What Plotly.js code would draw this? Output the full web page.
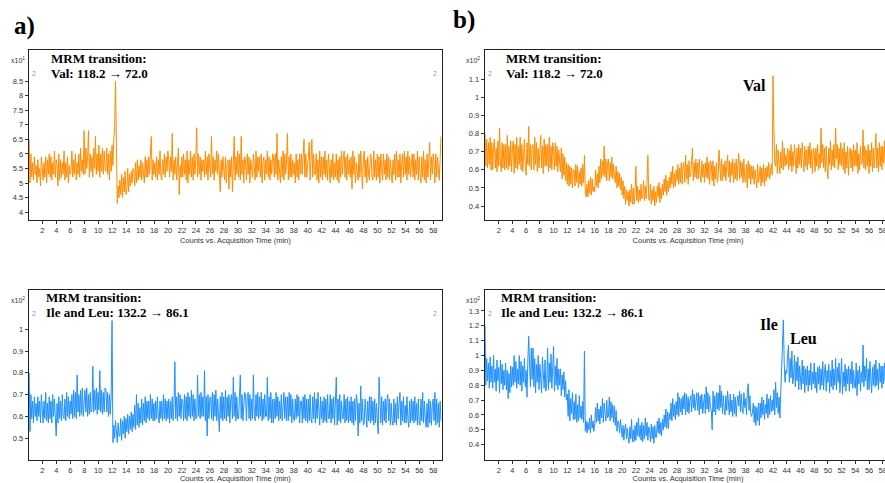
<!DOCTYPE html>
<html><head><meta charset="utf-8">
<script src="https://cdn.plot.ly/plotly-3.0.1.min.js"></script>
<style>html,body{margin:0;padding:0;overflow:hidden;background:#fff}#chart{width:900px;height:483px}</style>
</head><body><div id="chart"></div>
<script>
// Acquisition time tick labels (min)
const tickMinutes = [2,4,6,8,10,12,14,16,18,20,22,24,26,28,30,32,34,36,38,40,42,44,46,48,50,52,54,56,58];
const yTicksValA = [4,4.5,5,5.5,6,6.5,7,7.5,8,8.5];
const yTicksIleA = [0.5,0.6,0.7,0.8,0.9,1];
const yTicksValB = [0.4,0.5,0.6,0.7,0.8,0.9,1,1.1];
const yTicksIleB = [0.4,0.5,0.6,0.7,0.8,0.9,1,1.1,1.2,1.3];

// Raw counts read from the picture, sampled every 0.125 min (8 per minute)
// a) Val 118.2 -> 72.0 (axis x10^1), starts at 0.1 min
const countsValA = [
65,50,60,52,57,51,59,53, 56,50,58,52,55,49,59,53, 51,57,52,59,50,58,53,60, 52,59,51,57,53,61,52,58,
56,49,60,51,58,52,57,53, 61,51,57,52,59,50,56,53, 54,61,52,58,53,60,51,57, 53,60,52,62,54,58,53,68,
53,62,55,59,68,52,60,54, 59,52,62,55,66,53,60,54, 63,52,60,54,62,53,61,55, 54,62,53,60,51,61,54,63,
56,65,69,85,60,43,49,45, 51,46,53,45,52,47,54,46, 48,55,47,53,49,54,50,55, 54,49,57,50,58,51,56,52,
58,51,57,53,50,59,52,58, 52,59,53,60,66,51,58,53, 57,52,59,51,58,53,61,52, 51,58,53,60,52,59,54,61,
58,52,59,54,67,51,58,53, 59,51,57,62,46,56,52,59, 52,60,53,58,51,61,50,58, 53,61,52,59,51,60,53,58,
69,52,60,53,59,51,58,54, 58,52,61,53,59,51,60,54, 52,66,53,59,51,58,54,61, 53,60,52,47,58,52,59,53,
51,59,50,57,58,48,58,52, 59,47,60,66,51,59,53,61, 52,60,51,66,53,58,50,59, 58,51,60,53,59,50,58,54,
52,60,53,51,61,52,59,54, 59,52,60,50,57,59,51,58, 53,61,52,59,51,58,53,60, 59,52,60,53,67,51,58,54,
50,59,52,61,51,60,53,58, 67,51,59,52,60,52,58,53, 57,50,60,52,58,51,60,53, 60,53,59,65,52,60,52,58,
59,64,51,58,65,52,60,53, 53,60,51,58,50,61,52,59, 51,59,53,61,52,58,51,60, 53,50,58,52,60,51,57,52,
60,51,58,50,59,52,61,53, 58,61,52,59,51,60,53,58, 52,59,48,61,53,59,50,57, 54,51,60,52,61,51,48,58,
61,52,58,50,59,53,51,60, 59,52,51,61,52,58,51,60, 52,59,50,60,53,51,60,53, 58,51,60,52,59,51,58,53,
50,58,53,60,51,61,52,58, 52,60,50,57,60,52,61,53, 59,51,61,53,59,52,57,60, 52,60,51,58,53,61,51,59,
53,50,59,52,61,51,58,50, 60,52,58,64,51,59,53,60, 57,50,60,52,59,53,51,58, 66];
// a) Ile and Leu 132.2 -> 86.1 (axis x10^2), starts at 0.1 min
const countsIleA = [
80,53,70,59,67,57,69,60, 66,58,69,60,67,57,70,60, 57,67,59,71,58,66,57,69, 59,67,57,70,60,68,58,51,
66,57,69,59,67,58,70,60, 59,68,58,71,60,69,59,67, 61,70,59,72,60,71,59,79, 62,70,60,72,61,73,60,70,
72,62,73,60,70,61,71,62, 63,83,62,72,63,73,61,71, 63,81,62,72,61,71,62,73, 72,62,71,60,70,61,69,104,
48,56,50,58,51,48,57,51, 51,59,49,58,52,60,50,59, 53,61,52,60,54,62,53,61, 55,65,54,70,56,66,55,64,
57,68,56,66,58,69,57,67, 59,67,58,70,59,68,58,66, 58,67,59,69,60,57,67,59, 67,58,70,59,68,58,67,59,
68,57,67,59,69,58,66,85, 59,69,58,71,60,70,59,68, 67,58,70,59,69,58,71,60, 69,59,72,60,70,58,68,59,
59,79,60,70,59,71,60,69, 60,81,58,69,51,70,59,68, 69,59,71,58,70,60,72,58, 68,59,53,69,59,71,58,69,
59,72,58,69,60,70,57,68, 70,59,78,60,71,58,69,59, 59,69,79,59,70,58,68,71, 70,58,69,71,59,70,58,68,
59,79,61,58,70,60,71,59, 69,60,71,58,68,59,70,60, 60,78,58,69,59,71,57,68, 57,68,59,71,60,69,58,67,
59,70,58,68,71,59,69,58, 69,58,71,60,70,57,68,59, 58,68,59,70,60,69,57,67, 67,57,69,59,70,58,68,57,
68,58,70,59,57,69,59,71, 57,68,59,71,60,56,69,59, 67,57,69,58,68,57,70,59, 59,70,57,68,59,69,56,67,
78,56,68,58,70,57,67,59, 59,70,57,68,58,69,57,67, 58,69,57,67,56,68,58,70, 67,51,66,57,74,58,68,56,
57,68,59,55,67,58,69,57, 69,58,67,56,68,57,66,55, 52,78,66,57,69,56,67,58, 68,57,67,70,58,68,56,66,
58,56,68,57,66,56,69,59, 66,71,56,67,58,69,57,65, 57,69,59,55,67,57,68,58, 67,57,69,58,66,56,68,57,
56,68,58,71,57,67,59,55, 66,55,68,57,67,56,65,68, 58,71,56,68,57,66,55,67, 58];
// b) Val 118.2 -> 72.0 (axis x10^2), starts at 0 min
const countsValB = [
80,62,77,61,75,63,78,60, 75,60,73,77,61,72,59,76, 62,83,64,59,75,61,74,60, 74,61,79,60,73,62,76,59,
72,76,58,74,61,78,60,73, 63,78,60,74,59,72,77,61, 57,75,63,84,62,74,60,73, 74,60,78,63,75,59,72,61,
75,79,61,73,58,77,62,74, 62,74,59,78,61,73,60,75, 71,60,75,62,73,59,71,61, 59,72,55,69,57,67,54,64,
52,63,51,62,52,61,50,60, 60,51,63,53,62,50,59,52, 61,51,63,53,68,47,45,52, 45,54,47,56,46,55,48,51,
48,60,51,58,50,62,53,66, 55,65,57,73,56,66,54,64, 66,54,64,56,67,55,63,57, 53,62,50,59,51,58,49,56,
46,54,44,51,41,49,43,48, 40,49,42,52,41,50,41,47, 62,43,51,42,49,43,52,44, 45,54,43,51,44,53,68,44,
43,52,41,49,43,51,40,48, 42,51,45,53,42,50,44,52, 46,55,48,57,46,54,48,56, 50,59,52,62,50,58,51,60,
54,63,52,61,53,64,52,62, 64,53,68,55,63,52,65,56, 57,65,72,54,64,56,66,55, 64,55,66,57,53,65,56,63,
53,64,56,67,55,64,52,65, 63,54,65,51,62,55,64,53, 56,71,59,54,66,54,63,56, 65,54,63,68,56,65,53,64,
57,66,53,64,55,66,54,63, 69,55,65,56,64,53,66,55, 53,63,50,65,55,63,52,62, 55,62,52,60,56,50,63,53,
56,62,51,61,53,63,51,61, 54,62,56,64,55,61,63,57, 112,82,64,62,74,58,71,63, 58,70,61,76,60,72,62,68,
63,72,60,71,62,74,59,70, 62,74,64,58,72,61,74,63, 72,61,75,64,59,73,62,71, 60,73,63,75,61,71,58,72,
70,59,72,62,74,60,69,61, 83,64,74,61,72,59,73,62, 55,72,63,76,60,71,62,74, 61,83,66,74,60,72,63,75,
62,72,60,75,58,70,61,73, 57,69,72,61,71,59,74,62, 71,62,75,58,69,60,73,63, 64,82,61,73,60,71,62,74,
58,71,62,75,59,72,61,69, 80,61,72,59,75,62,73,60, 73,64,76,62,72,60,74,63, 68];
// b) Ile and Leu 132.2 -> 86.1 (axis x10^2), starts at 0 min
const countsIleB = [
120,80,98,83,95,78,99,82, 93,78,100,82,91,76,97,83, 92,75,97,81,94,77,90,80, 95,77,90,71,88,75,93,79,
92,80,100,82,96,78,91,81, 100,80,96,76,93,82,98,79, 90,72,97,113,93,79,105,84, 105,79,98,75,94,82,100,77,
94,82,75,99,91,78,97,76, 81,105,77,95,82,101,78,93, 106,76,93,80,98,77,91,80, 91,73,87,77,89,72,83,70,
74,59,77,56,71,61,75,57, 69,57,74,55,67,56,73,58, 66,57,69,55,103,49,56,48, 55,50,58,48,60,51,56,49,
54,65,55,68,56,64,54,66, 58,71,55,68,60,56,70,58, 59,72,56,69,58,67,55,66, 53,63,49,56,55,48,57,50,
45,53,43,51,54,44,51,45, 41,52,44,57,42,50,42,53, 43,55,46,58,45,53,43,55, 42,53,44,58,46,55,43,52,
50,42,54,44,52,41,53,45, 45,56,48,58,47,55,46,57, 50,60,52,64,51,62,51,61, 57,68,56,71,59,67,57,69,
60,75,59,72,62,71,60,73, 64,75,60,74,62,72,61,70, 73,62,77,65,74,63,72,75, 63,75,60,73,64,74,61,72,
74,61,79,64,75,62,73,65, 63,50,76,62,73,60,75,64, 75,63,80,65,76,61,73,64, 60,73,63,76,65,60,74,62,
70,59,74,61,72,59,69,73, 66,76,62,74,64,61,75,65, 71,60,75,81,63,73,61,59, 62,68,55,66,53,65,56,68,
53,68,58,72,60,70,57,67, 61,74,58,71,60,73,62,70, 63,77,60,82,65,75,61,72, 58,72,84,100,124,96,82,90,
88,100,107,82,98,85,103,81, 85,100,79,96,83,99,77,93, 83,77,97,81,93,75,91,80, 93,76,90,80,95,77,89,81,
95,78,89,75,92,81,93,77, 91,80,96,77,89,94,76,90, 82,94,75,90,79,97,77,91, 80,98,77,92,82,95,75,89,
98,74,89,79,94,76,91,81, 93,76,91,81,96,78,90,80, 78,95,73,90,81,93,76,89, 82,107,79,93,83,98,77,91,
77,96,82,75,92,80,94,79, 97,80,91,77,95,82,93,78, 93,81,95,83,91,79,96,82, 85];

const step = 0.125;
const timesA = countsValA.map((_, i) => 0.1 + step * i);
const timesA2 = countsIleA.map((_, i) => 0.1 + step * i);
const timesB = countsValB.map((_, i) => step * i);
const timesB2 = countsIleB.map((_, i) => step * i);

const W = 900, H = 483;
const px = x => x / W;
const py = y => 1 - y / H;

const ORANGE = '#FF8C00', BLUE = '#1E90FF';
const tickFont = {family: 'Liberation Sans Narrow, Arial Narrow, Liberation Sans, Arial, sans-serif', size: 7.5, color: '#333'};
const titleFont = {family: 'Liberation Sans Narrow, Arial Narrow, Liberation Sans, Arial, sans-serif', size: 7.5, color: '#333'};

const traces = [
  {x: timesA, y: countsValA.map(v => v / 10), xaxis: 'x', yaxis: 'y', type: 'scatter', mode: 'lines', line: {color: ORANGE, width: 1}},
  {x: timesA2, y: countsIleA.map(v => v / 100), xaxis: 'x2', yaxis: 'y2', type: 'scatter', mode: 'lines', line: {color: BLUE, width: 1}},
  {x: timesB, y: countsValB.map(v => v / 100), xaxis: 'x3', yaxis: 'y3', type: 'scatter', mode: 'lines', line: {color: ORANGE, width: 1}},
  {x: timesB2, y: countsIleB.map(v => v / 100), xaxis: 'x4', yaxis: 'y4', type: 'scatter', mode: 'lines', line: {color: BLUE, width: 1}}
];

function xAx(dom, anchor, range) {
  return {domain: dom, anchor: anchor, range: range, tickvals: tickMinutes, ticks: 'outside', ticklen: 3, tickwidth: 1,
    tickcolor: '#333', tickfont: tickFont, showline: true, mirror: true, linecolor: '#222', linewidth: 1.3,
    showgrid: false, zeroline: false, fixedrange: true,
    title: {text: 'Counts vs. Acquisition Time (min)', font: titleFont, standoff: 3}};
}
function yAx(dom, anchor, range, tv) {
  return {domain: dom, anchor: anchor, range: range, tickvals: tv, ticks: 'outside', ticklen: 3, tickwidth: 1,
    tickcolor: '#333', tickfont: tickFont, showline: true, mirror: true, linecolor: '#222', linewidth: 1.3,
    showgrid: false, zeroline: false, fixedrange: true};
}
const dxA = [px(29), px(441.7)], dxB = [px(485), px(891)];
const dyTop = [py(220), py(50)], dyBot = [py(460), py(290)];

const serif = (size) => ({family: 'Liberation Serif, Times New Roman, serif', size: size, color: '#000'});
function txt(x, y, text, font, xanchor) {
  return {xref: 'paper', yref: 'paper', x: px(x), y: py(y), text: text, showarrow: false,
    xanchor: xanchor || 'left', yanchor: 'middle', font: font};
}
const small = {family: 'Liberation Sans, Arial, sans-serif', size: 7, color: '#333'};
const grey = {family: 'Liberation Sans, Arial, sans-serif', size: 7, color: '#999'};

const annotations = [
  txt(12, 26, '<b>a)</b>', serif(25)),
  txt(451, 20, '<b>b)</b>', serif(25)),
  txt(49, 58, '<b>MRM transition:</b>', serif(13)),
  txt(49, 73, '<b>Val: 118.2 → 72.0</b>', serif(13)),
  txt(44, 297, '<b>MRM transition:</b>', serif(13)),
  txt(44, 312, '<b>Ile and Leu: 132.2 → 86.1</b>', serif(13)),
  txt(504, 58, '<b>MRM transition:</b>', serif(13)),
  txt(504, 73, '<b>Val: 118.2 → 72.0</b>', serif(13)),
  txt(499, 297, '<b>MRM transition:</b>', serif(13)),
  txt(499, 312, '<b>Ile and Leu: 132.2 → 86.1</b>', serif(13)),
  txt(754, 85, '<b>Val</b>', serif(16), 'center'),
  txt(769, 324, '<b>Ile</b>', serif(16), 'center'),
  txt(803, 338, '<b>Leu</b>', serif(16), 'center'),
  txt(9, 60, 'x10<sup>1</sup>', small),
  txt(9, 300, 'x10<sup>2</sup>', small),
  txt(464, 60, 'x10<sup>2</sup>', small),
  txt(464, 300, 'x10<sup>2</sup>', small),
  txt(30, 73, '2', grey),
  txt(439, 73, '2', grey, 'right'),
  txt(30, 313, '2', grey),
  txt(439, 313, '2', grey, 'right'),
  txt(486, 73, '2', grey),
  txt(486, 313, '2', grey)
];

const layout = {
  width: W, height: H, margin: {l: 0, r: 0, t: 0, b: 0},
  paper_bgcolor: '#fff', plot_bgcolor: '#fff', showlegend: false,
  xaxis: xAx(dxA, 'y', [0.08, 59.2]),
  yaxis: yAx(dyTop, 'x', [3.73, 9.57], yTicksValA),
  xaxis2: xAx(dxA, 'y2', [0.08, 59.2]),
  yaxis2: yAx(dyBot, 'x2', [0.40, 1.18], yTicksIleA),
  xaxis3: xAx(dxB, 'y3', [0, 59.2]),
  yaxis3: yAx(dyTop, 'x3', [0.323, 1.262], yTicksValB),
  xaxis4: xAx(dxB, 'y4', [0, 59.2]),
  yaxis4: yAx(dyBot, 'x4', [0.297, 1.441], yTicksIleB),
  annotations: annotations
};

Plotly.newPlot('chart', traces, layout, {displayModeBar: false, staticPlot: true});
</script>
</body></html>
